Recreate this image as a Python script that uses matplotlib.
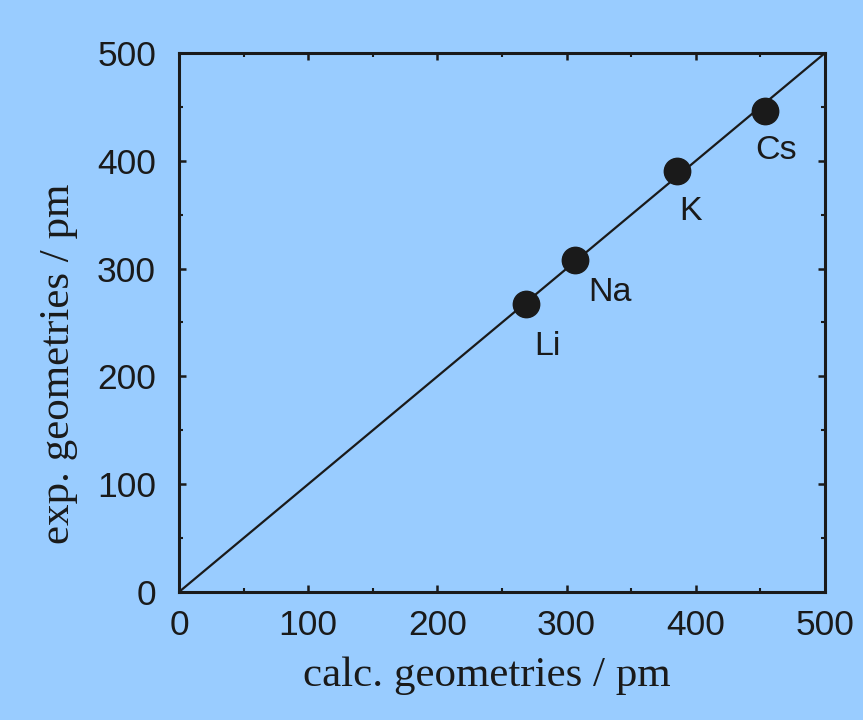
import matplotlib
matplotlib.use('Agg')
import matplotlib.pyplot as plt
from matplotlib.ticker import MultipleLocator

# data
elements = ['Li', 'Na', 'K', 'Cs']
calc = [268.6, 306.3, 385.6, 453.6]
exp = [267.2, 308.0, 390.5, 446.5]
label_x = [284.8, 333.6, 396.3, 462.0]
label_y = [228.0, 277.4, 352.5, 410.0]
diag = [0, 500]

bg = '#99ccff'
ink = '#1a1a1a'

fig = plt.figure(figsize=(8.63, 7.2), dpi=100, facecolor=bg)
ax = fig.add_axes([0.2074, 0.1778, 0.7486, 0.7486], facecolor=bg)

ax.plot(diag, diag, color=ink, lw=1.6, zorder=2)
ax.plot(calc, exp, 'o', color=ink, ms=19, zorder=3)
for name, lx, ly in zip(elements, label_x, label_y):
    ax.text(lx, ly, name, ha='center', va='center', fontsize=24.5,
            family='Liberation Sans', color=ink)

ax.set_xlim(0, 500)
ax.set_ylim(0, 500)
ax.xaxis.set_major_locator(MultipleLocator(100))
ax.yaxis.set_major_locator(MultipleLocator(100))
ax.xaxis.set_minor_locator(MultipleLocator(50))
ax.yaxis.set_minor_locator(MultipleLocator(50))
ax.tick_params(which='both', direction='in', top=True, right=True, color=ink)
ax.tick_params(which='major', length=5, width=1.8, labelsize=25.5,
               labelcolor=ink)
ax.tick_params(axis='x', which='major', pad=12.5)
ax.tick_params(axis='y', which='major', pad=16.5)
ax.tick_params(which='minor', length=3, width=1.5)
for lab in ax.get_xticklabels() + ax.get_yticklabels():
    lab.set_family('Liberation Sans')
for s in ax.spines.values():
    s.set_linewidth(2.2)
    s.set_color(ink)

# axis titles sit slightly off-centre in the original
fig.text(487 / 863, 1 - 676 / 720, 'calc. geometries / pm', ha='center',
         va='center', family='Liberation Serif', fontsize=31, color=ink)
fig.text(59 / 863, 1 - 363.5 / 720, 'exp. geometries / pm', ha='center',
         va='center', rotation=90, family='Liberation Serif', fontsize=31,
         color=ink)

fig.savefig('out.png', dpi=100, facecolor=bg)
